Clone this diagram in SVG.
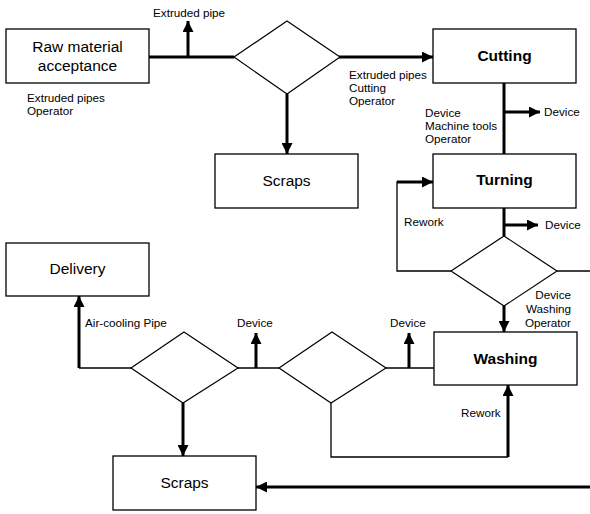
<svg xmlns="http://www.w3.org/2000/svg" width="590" height="514" viewBox="0 0 590 514">
<style>
.box{fill:#fff;stroke:#000;stroke-width:1.3}
.dia{fill:#fff;stroke:#000;stroke-width:1.2}
.t{font-family:"Liberation Sans",Arial,sans-serif;font-size:15.5px;fill:#000;text-anchor:middle}
.b{font-weight:bold}
.s{font-family:"Liberation Sans",Arial,sans-serif;font-size:11.7px;fill:#000}
.thick{fill:none;stroke:#000;stroke-width:3}
.thin{fill:none;stroke:#000;stroke-width:1.3}
.arr{marker-end:url(#ah)}
</style>
<defs>
<marker id="ah" viewBox="0 0 11 11" refX="11" refY="5.5" markerWidth="11" markerHeight="11" markerUnits="userSpaceOnUse" orient="auto">
<path d="M0,0 L11,5.5 L0,11 z" fill="#000"/>
</marker>
</defs>
<rect width="590" height="514" fill="#fff"/>
<g id="connectors">
<line class="thick" x1="149" y1="57" x2="234" y2="57"/>
<line class="thick arr" x1="188" y1="57" x2="188" y2="21"/>
<line class="thick arr" x1="287" y1="94" x2="287" y2="154"/>
<line class="thick arr" x1="339" y1="57" x2="433" y2="57"/>
<line class="thick" x1="504" y1="83" x2="504" y2="154"/>
<line class="thick arr" x1="504" y1="112" x2="540" y2="112"/>
<line class="thick" x1="504" y1="208" x2="504" y2="236"/>
<line class="thick arr" x1="504" y1="225" x2="538" y2="225"/>
<polyline class="thin" points="451,271 397,271 397,182 410,182"/>
<line class="thick arr" x1="397" y1="182" x2="433" y2="182"/>
<line class="thin" x1="557" y1="271" x2="590" y2="271"/>
<line class="thick arr" x1="504" y1="306" x2="504" y2="332"/>
<line class="thin" x1="434" y1="368" x2="386" y2="368"/>
<line class="thick arr" x1="409" y1="368" x2="409" y2="333"/>
<line class="thin" x1="279" y1="368" x2="238" y2="368"/>
<line class="thick arr" x1="256" y1="368" x2="256" y2="333"/>
<line class="thin" x1="131" y1="368" x2="79" y2="368"/>
<line class="thick arr" x1="79" y1="368" x2="79" y2="296"/>
<line class="thick arr" x1="183" y1="403" x2="183" y2="456"/>
<line class="thick arr" x1="590" y1="487" x2="256" y2="487"/>
<polyline class="thin" points="331,403 331,457 508,457"/>
<line class="thick arr" x1="508" y1="457" x2="508" y2="385"/>
</g>
<g id="raw">
<rect class="box" x="6" y="29" width="143" height="54"/>
<text class="t" x="77.5" y="52">Raw material</text>
<text class="t" x="77.5" y="71">acceptance</text>
</g>
<g id="d1"><polygon class="dia" points="287,21 340,57 287,94 234,57"/></g>
<g id="scraps1">
<rect class="box" x="215" y="154" width="143" height="54"/>
<text class="t" x="286.5" y="186">Scraps</text>
</g>
<g id="cutting">
<rect class="box" x="433" y="29" width="143" height="54"/>
<text class="t b" x="504.5" y="61">Cutting</text>
</g>
<g id="turning">
<rect class="box" x="433" y="154" width="143" height="54"/>
<text class="t b" x="504.5" y="185">Turning</text>
</g>
<g id="d2"><polygon class="dia" points="504,236 557,271 504,306 451,271"/></g>
<g id="washing">
<rect class="box" x="434" y="332" width="143" height="53"/>
<text class="t b" x="505.5" y="364">Washing</text>
</g>
<g id="d3"><polygon class="dia" points="332,332 386,368 331,403 279,368"/></g>
<g id="d4"><polygon class="dia" points="184,332 238,368 183,403 131,368"/></g>
<g id="delivery">
<rect class="box" x="6" y="243" width="143" height="53"/>
<text class="t" x="77.5" y="274">Delivery</text>
</g>
<g id="scraps2">
<rect class="box" x="113" y="456" width="143" height="54"/>
<text class="t" x="184.5" y="488">Scraps</text>
</g>
<g id="labels">
<text class="s" x="153" y="17">Extruded pipe</text>
<text class="s" x="27" y="102">Extruded pipes</text>
<text class="s" x="27" y="115">Operator</text>
<text class="s" x="349" y="79">Extruded pipes</text>
<text class="s" x="349" y="92">Cutting</text>
<text class="s" x="349" y="105">Operator</text>
<text class="s" x="425" y="117">Device</text>
<text class="s" x="425" y="130">Machine tools</text>
<text class="s" x="425" y="143">Operator</text>
<text class="s" x="544" y="116">Device</text>
<text class="s" x="404" y="226">Rework</text>
<text class="s" x="545" y="229">Device</text>
<text class="s" x="571" y="299" text-anchor="end">Device</text>
<text class="s" x="571" y="313" text-anchor="end">Washing</text>
<text class="s" x="571" y="327" text-anchor="end">Operator</text>
<text class="s" x="85" y="327">Air-cooling Pipe</text>
<text class="s" x="237" y="327">Device</text>
<text class="s" x="390" y="327">Device</text>
<text class="s" x="461" y="417">Rework</text>
</g>
</svg>
